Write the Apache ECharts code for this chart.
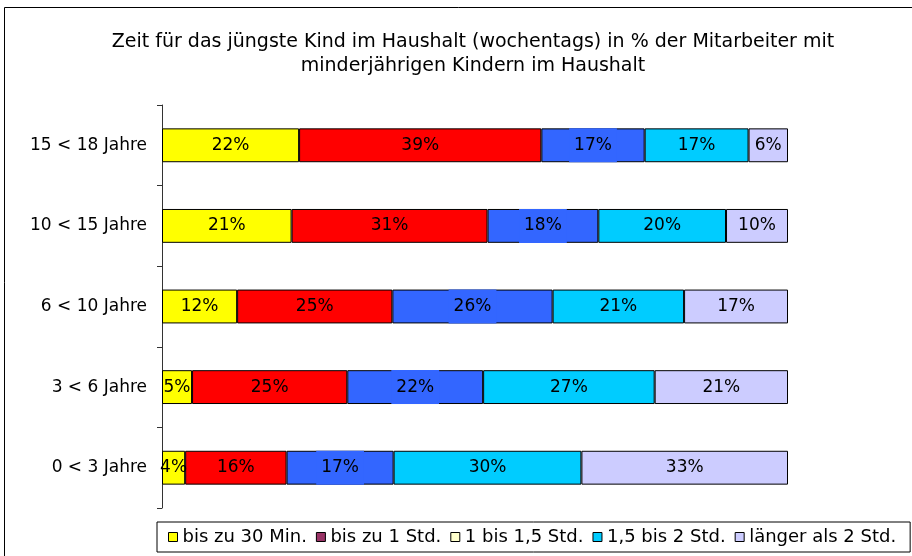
<!DOCTYPE html>
<html>
<head>
<meta charset="utf-8">
<script src="https://cdn.jsdelivr.net/npm/echarts@6/dist/echarts.min.js"></script>
<style>
html,body{margin:0;padding:0;background:#fff;}
#chart{width:912px;height:556px;}
</style>
</head>
<body>
<div id="chart"></div>
<script>
var categories = ['15 < 18 Jahre', '10 < 15 Jahre', '6 < 10 Jahre', '3 < 6 Jahre', '0 < 3 Jahre'];
var seriesNames = ['bis zu 30 Min.', 'bis zu 1 Std.', '1 bis 1,5 Std.', '1,5 bis 2 Std.', 'länger als 2 Std.'];
var bis30 = [21.9, 20.7, 12.0, 4.8, 3.7];
var bis1 = [38.7, 31.3, 24.8, 24.8, 16.2];
var bis15 = [16.5, 17.7, 25.6, 21.7, 17.1];
var bis2 = [16.6, 20.4, 21.0, 27.4, 30.0];
var laenger = [6.3, 9.9, 16.6, 21.3, 33.0];
var barColors = ['#FFFF00', '#FF0000', '#3366FF', '#00CCFF', '#CCCCFF'];
var legendColors = ['#FFFF00', '#993366', '#FFFFCC', '#00CCFF', '#CCCCFF'];

var FONT = 'DejaVu Sans';
var chart = echarts.init(document.getElementById('chart'));
var allData = [bis30, bis1, bis15, bis2, laenger];

var series = allData.map(function (d, i) {
  var label = {
    show: true,
    position: 'inside',
    color: '#000',
    fontFamily: FONT,
    fontSize: 17,
    formatter: function (p) { return Math.round(p.value) + '%'; }
  };
  if (i === 2) {
    label.backgroundColor = '#3366FF';
    label.padding = [8, 5, 9, 5];
  }
  return {
    name: seriesNames[i],
    type: 'bar',
    stack: 'total',
    barCategoryGap: '58%',
    data: d,
    itemStyle: { color: barColors[i], borderColor: '#000', borderWidth: 1 },
    label: label,
    emphasis: { disabled: true }
  };
});

chart.setOption({
  animation: false,
  backgroundColor: '#fff',
  title: {
    text: 'Zeit für das jüngste Kind im Haushalt (wochentags) in % der Mitarbeiter mit\nminderjährigen Kindern im Haushalt',
    left: 468,
    top: 25,
    textAlign: 'center',
    textStyle: { fontFamily: FONT, fontSize: 19, fontWeight: 'normal', color: '#000', lineHeight: 24 }
  },
  graphic: [{
    type: 'rect',
    shape: { x: 4.5, y: 7.5, width: 1000, height: 1000 },
    style: { fill: 'none', stroke: '#000', lineWidth: 1 },
    silent: true
  }],
  legend: {
    left: 157,
    top: 522,
    width: 770,
    padding: [6, 14, 6, 11],
    borderColor: '#000',
    borderWidth: 1,
    itemWidth: 9,
    itemHeight: 9,
    itemGap: 9,
    icon: 'rect',
    textStyle: { fontFamily: FONT, fontSize: 18, color: '#000' },
    data: seriesNames.map(function (n, i) {
      return { name: n, itemStyle: { color: legendColors[i], borderColor: '#000', borderWidth: 1 } };
    })
  },
  grid: { left: 162, right: 124, top: 105, bottom: 48, containLabel: false },
  xAxis: {
    type: 'value', min: 0, max: 100, show: false
  },
  yAxis: {
    type: 'category',
    data: categories,
    inverse: true,
    axisLine: { lineStyle: { color: '#333', width: 1 } },
    axisTick: { show: true, length: 5, lineStyle: { color: '#333' } },
    axisLabel: { fontFamily: FONT, fontSize: 17, color: '#000', margin: 15 }
  },
  series: series
});
</script>
</body>
</html>
